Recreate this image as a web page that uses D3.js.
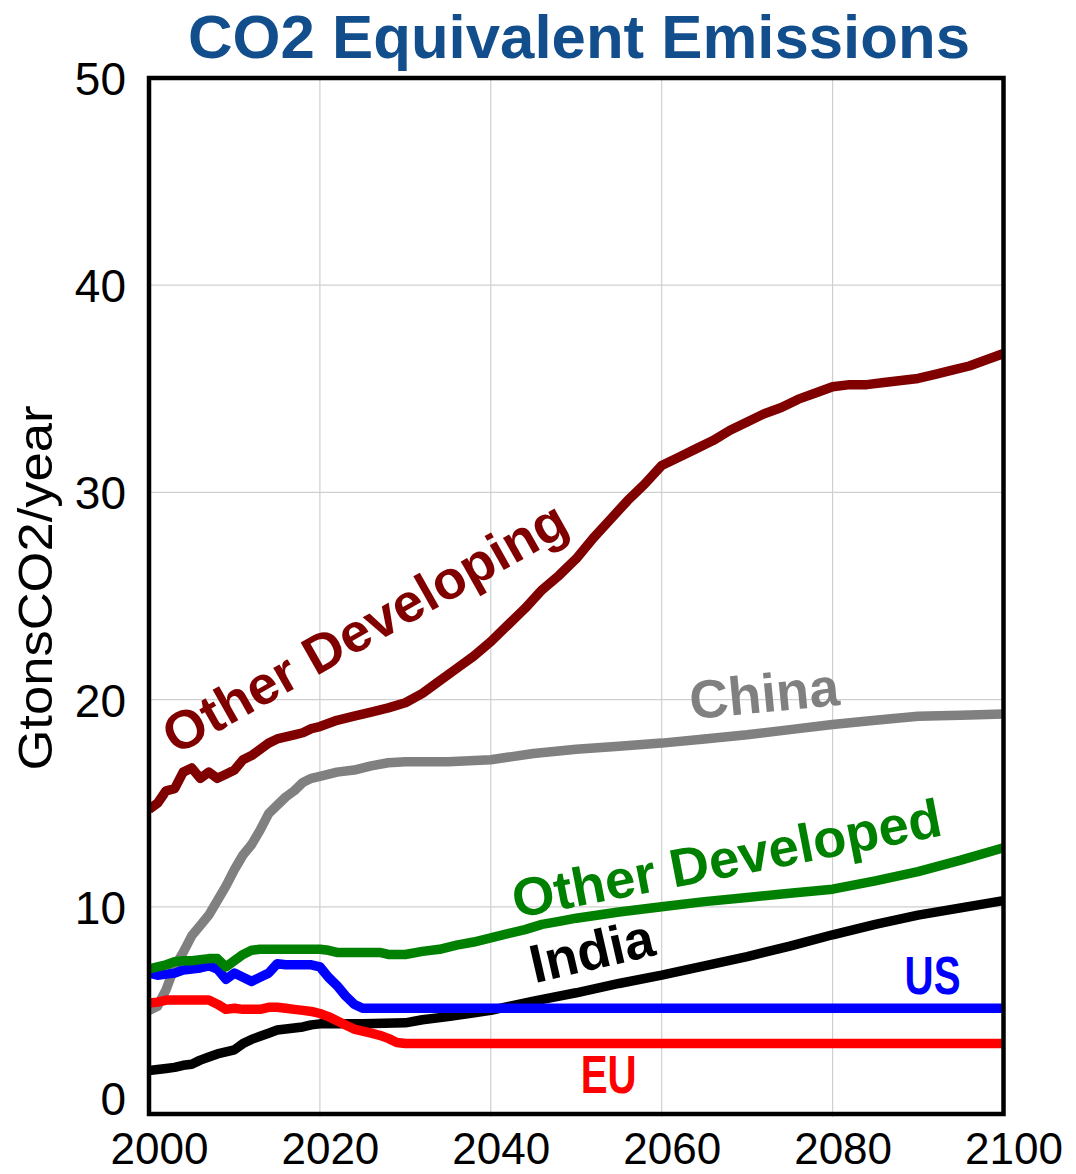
<!DOCTYPE html>
<html>
<head>
<meta charset="utf-8">
<script src="https://cdn.jsdelivr.net/npm/d3@7"></script>
<style>
html,body{margin:0;padding:0;background:#fff;}
svg{display:block;}
</style>
</head>
<body>
<svg id="chart" width="1076" height="1174"></svg>
<script>
// ---------------- DATA ----------------
const title = "CO2 Equivalent Emissions";
const yAxisTitle = "GtonsCO2/year";
const xTickValues = [2000, 2020, 2040, 2060, 2080, 2100];
const yTickValues = [0, 10, 20, 30, 40, 50];

const otherDevelopingYears = [2000,2001,2002,2003,2004,2005,2006,2007,2008,2009,2010,2011,2012,2013,2014,2015,2016,2017,2018,2019,2020,2022,2024,2026,2028,2030,2032,2034,2036,2038,2040,2042,2044,2046,2048,2050,2052,2054,2056,2058,2060,2062,2064,2066,2068,2070,2072,2074,2076,2078,2080,2082,2084,2086,2088,2090,2092,2094,2096,2098,2100];
const otherDevelopingValues = [14.7,15.0,15.6,15.7,16.5,16.7,16.2,16.5,16.2,16.4,16.6,17.1,17.3,17.6,17.9,18.1,18.2,18.3,18.4,18.6,18.7,19.0,19.2,19.4,19.6,19.85,20.3,20.9,21.5,22.1,22.8,23.6,24.4,25.3,26.0,26.8,27.8,28.7,29.6,30.4,31.3,31.7,32.1,32.5,33.0,33.4,33.8,34.1,34.5,34.8,35.1,35.2,35.2,35.3,35.4,35.5,35.7,35.9,36.1,36.4,36.7];

const chinaYears = [2000,2001,2002,2003,2004,2005,2006,2007,2008,2009,2010,2011,2012,2013,2014,2015,2016,2017,2018,2019,2020,2022,2024,2026,2028,2030,2035,2040,2045,2050,2055,2060,2065,2070,2075,2080,2085,2090,2095,2100];
const chinaValues = [5.0,5.2,6.0,7.1,7.8,8.6,9.1,9.6,10.3,11.0,11.8,12.5,13.0,13.7,14.5,14.9,15.3,15.6,16.0,16.2,16.3,16.5,16.6,16.8,16.95,17.0,17.0,17.1,17.4,17.6,17.75,17.9,18.1,18.3,18.55,18.8,19.0,19.2,19.25,19.3];

const otherDevelopedYears = [2000,2001,2002,2003,2004,2005,2006,2007,2008,2009,2010,2011,2012,2013,2015,2020,2021,2022,2027,2028,2030,2032,2034,2036,2038,2040,2042,2044,2046,2048,2050,2055,2060,2065,2070,2075,2080,2085,2090,2095,2100];
const otherDevelopedValues = [7.0,7.1,7.2,7.35,7.4,7.4,7.45,7.5,7.5,7.1,7.4,7.7,7.9,7.95,7.95,7.95,7.9,7.8,7.8,7.7,7.7,7.85,7.95,8.15,8.3,8.5,8.7,8.9,9.15,9.3,9.45,9.75,10.0,10.25,10.45,10.65,10.85,11.25,11.7,12.25,12.85];

const indiaYears = [2000,2001,2002,2003,2004,2005,2006,2007,2008,2009,2010,2011,2012,2013,2014,2015,2016,2017,2018,2019,2020,2025,2030,2032,2035,2040,2045,2050,2055,2060,2065,2070,2075,2080,2085,2090,2095,2100];
const indiaValues = [2.1,2.15,2.2,2.25,2.35,2.4,2.6,2.75,2.9,3.0,3.1,3.4,3.6,3.75,3.9,4.05,4.1,4.15,4.2,4.3,4.35,4.35,4.4,4.55,4.7,5.0,5.45,5.85,6.3,6.7,7.15,7.6,8.1,8.65,9.15,9.6,9.95,10.3];

const usYears = [2000,2001,2002,2003,2004,2005,2006,2007,2008,2009,2010,2011,2012,2013,2014,2015,2016,2017,2018,2019,2020,2021,2022,2023,2024,2025,2100];
const usValues = [6.8,6.7,6.75,6.8,6.95,7.0,7.05,7.15,7.0,6.5,6.8,6.6,6.4,6.6,6.8,7.25,7.2,7.2,7.2,7.2,7.1,6.6,6.2,5.7,5.3,5.1,5.1];

const euYears = [2000,2001,2002,2003,2004,2005,2006,2007,2008,2009,2010,2011,2012,2013,2014,2015,2016,2017,2018,2019,2020,2021,2022,2023,2024,2025,2026,2027,2028,2029,2030,2100];
const euValues = [5.35,5.4,5.5,5.5,5.5,5.5,5.5,5.5,5.3,5.05,5.1,5.05,5.05,5.05,5.15,5.15,5.1,5.05,5.0,4.95,4.85,4.7,4.5,4.3,4.1,4.0,3.9,3.8,3.65,3.45,3.4,3.4];

const seriesNames = ["China", "India", "EU", "US", "Other Developed", "Other Developing"];

// ---------------- STYLE / LAYOUT ----------------
const plot = {left: 149, right: 1003.5, top: 78, bottom: 1114};
const styles = {
  "China":            {color: "#808080", years: chinaYears, values: chinaValues},
  "India":            {color: "#000000", years: indiaYears, values: indiaValues},
  "EU":               {color: "#ff0000", years: euYears, values: euValues},
  "US":               {color: "#0000ff", years: usYears, values: usValues},
  "Other Developed":  {color: "#008000", years: otherDevelopedYears, values: otherDevelopedValues},
  "Other Developing": {color: "#800000", years: otherDevelopingYears, values: otherDevelopingValues}
};
// label anchors in data units (year, value), rotation, rendered length
const labels = {
  "Other Developing": {year: 2026.3, value: 22.7, rot: -29.5, len: 455},
  "China":            {year: 2072.2, value: 19.4, rot: -5.5,  len: 150},
  "Other Developed":  {year: 2068.0, value: 11.45, rot: -11, len: 436},
  "India":            {year: 2052.3, value: 7.0,  rot: -13,   len: 126},
  "US":               {year: 2091.7, value: 5.8,  rot: 0,     len: 56},
  "EU":               {year: 2053.8, value: 1.0,  rot: 0,     len: 56}
};

const FONT = "'Liberation Sans', Arial, sans-serif";

const svg = d3.select("#chart");
const x = d3.scaleLinear().domain([2000, 2100]).range([plot.left, plot.right]);
const y = d3.scaleLinear().domain([0, 50]).range([plot.bottom, plot.top]);

// gridlines
const g = svg.append("g");
g.selectAll(".vgrid").data(xTickValues.slice(1, -1)).enter().append("line")
  .attr("x1", d => x(d)).attr("x2", d => x(d))
  .attr("y1", plot.top).attr("y2", plot.bottom + 3)
  .attr("stroke", "#cfcfcf").attr("stroke-width", 1.2);
g.selectAll(".hgrid").data(yTickValues.slice(1, -1)).enter().append("line")
  .attr("x1", plot.left).attr("x2", plot.right)
  .attr("y1", d => y(d)).attr("y2", d => y(d))
  .attr("stroke", "#cfcfcf").attr("stroke-width", 1.2);

// axes (labels only)
const xAxis = d3.axisBottom(x).tickValues(xTickValues).tickFormat(d3.format("d")).tickSize(0).tickPadding(0);
const xg = svg.append("g").attr("transform", `translate(0,${plot.bottom})`).call(xAxis);
xg.select(".domain").remove();
xg.selectAll("text")
  .attr("font-family", FONT).attr("font-size", 44).attr("fill", "#000")
  .attr("dy", null).attr("y", 50).attr("dx", 10);

const yAxis = d3.axisLeft(y).tickValues(yTickValues).tickFormat(d3.format("d")).tickSize(0).tickPadding(0);
const yg = svg.append("g").attr("transform", `translate(126,0)`).call(yAxis);
yg.select(".domain").remove();
yg.selectAll("text")
  .attr("font-family", FONT).attr("font-size", 46).attr("fill", "#000")
  .attr("x", 0).attr("dy", d => d === 0 ? "0.02em" : "0.36em");

// lines
const line = d3.line().x(d => x(d[0])).y(d => y(d[1])).curve(d3.curveLinear);
svg.append("clipPath").attr("id", "clip").append("rect")
  .attr("x", plot.left).attr("y", plot.top)
  .attr("width", plot.right - plot.left).attr("height", plot.bottom - plot.top);
const lg = svg.append("g").attr("clip-path", "url(#clip)");
seriesNames.forEach(name => {
  const s = styles[name];
  const pts = s.years.map((yr, i) => [yr, s.values[i]]);
  lg.append("path").datum(pts)
    .attr("d", line)
    .attr("fill", "none")
    .attr("stroke", s.color)
    .attr("stroke-width", 9.5)
    .attr("stroke-linejoin", "round");
});

// frame
svg.append("rect")
  .attr("x", plot.left).attr("y", plot.top)
  .attr("width", plot.right - plot.left).attr("height", plot.bottom - plot.top)
  .attr("fill", "none").attr("stroke", "#000").attr("stroke-width", 4.5);

// series labels
seriesNames.forEach(name => {
  const L = labels[name];
  const px = x(L.year), py = y(L.value);
  svg.append("text")
    .attr("transform", `translate(${px},${py}) rotate(${L.rot})`)
    .attr("text-anchor", "middle")
    .attr("font-family", FONT).attr("font-weight", "bold")
    .attr("font-size", 54)
    .attr("textLength", L.len).attr("lengthAdjust", "spacingAndGlyphs")
    .attr("fill", styles[name].color)
    .text(name);
});

// title
svg.append("text")
  .attr("x", 579).attr("y", 58)
  .attr("text-anchor", "middle")
  .attr("font-family", FONT).attr("font-weight", "bold").attr("font-size", 62)
  .attr("textLength", 782).attr("lengthAdjust", "spacingAndGlyphs")
  .attr("fill", "#134e8c")
  .text(title);

// y axis title
svg.append("text")
  .attr("transform", `translate(52,588) rotate(-90)`)
  .attr("text-anchor", "middle")
  .attr("font-family", FONT).attr("font-size", 48)
  .attr("textLength", 365).attr("lengthAdjust", "spacingAndGlyphs")
  .attr("fill", "#000")
  .text(yAxisTitle);
</script>
</body>
</html>
